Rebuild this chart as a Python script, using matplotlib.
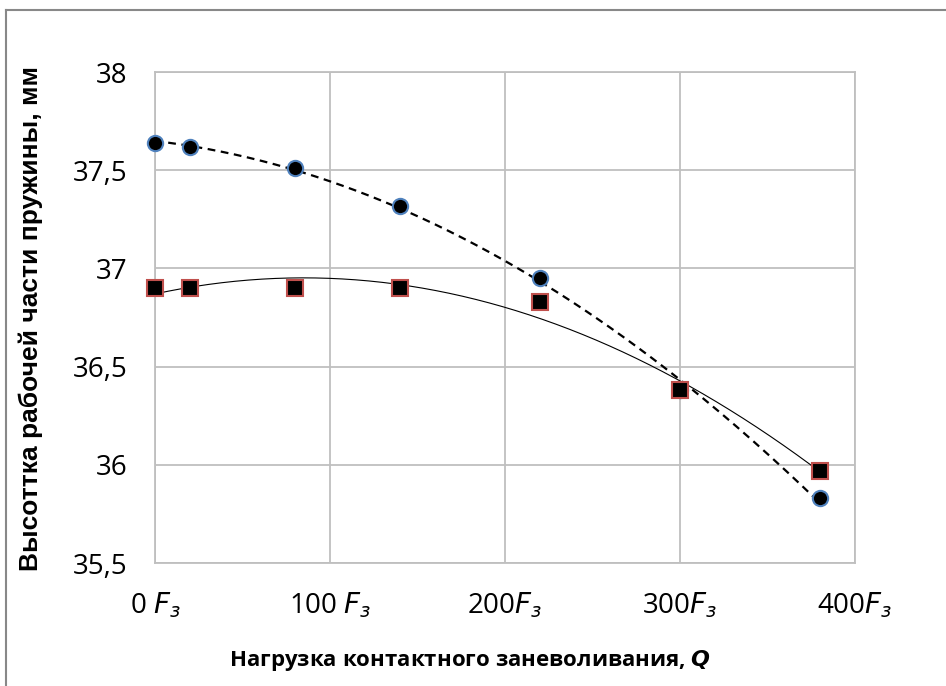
import numpy as np
import matplotlib
matplotlib.use("Agg")
import matplotlib.pyplot as plt
from matplotlib.lines import Line2D

# данные
q = [0, 20, 80, 140, 220, 300, 380]
h_circle = [37.64, 37.62, 37.51, 37.32, 36.95, 36.38, 35.83]
h_square = [36.90, 36.90, 36.90, 36.90, 36.83, 36.38, 35.97]

x_ticks = [0, 100, 200, 300, 400]
x_labels = ["0 $F_з$", "100 $F_з$", "200$F_з$", "300$F_з$", "400$F_з$"]
y_ticks = [35.5, 36, 36.5, 37, 37.5, 38]
y_labels = ["35,5", "36", "36,5", "37", "37,5", "38"]

plt.rcParams["font.family"] = ["Open Sans", "DejaVu Sans"]
plt.rcParams["mathtext.fontset"] = "dejavusans"

fig = plt.figure(figsize=(9.46, 6.86), dpi=100)
ax = fig.add_axes([0.1638, 0.1793, 0.7400, 0.7157])

# полиномиальные линии тренда (2-я степень)
xx = np.linspace(0, 380, 200)
p1 = np.polyfit(q, h_circle, 2)
p2 = np.polyfit(q, h_square, 2)
ax.plot(xx, np.polyval(p1, xx), color="black", lw=1.6, ls=(0, (3.5, 2.5)), zorder=3)
ax.plot(xx, np.polyval(p2, xx), color="black", lw=0.8, zorder=3)

ax.plot(q, h_circle, "o", ms=11, mfc="black", mec="#4F81BD", mew=1.5, ls="none",
        zorder=4, clip_on=False)
ax.plot(q, h_square, "s", ms=11, mfc="black", mec="#C0504D", mew=1.5, ls="none",
        zorder=5, clip_on=False)

ax.set_xlim(0, 400)
ax.set_ylim(35.5, 38)
ax.set_xticks(x_ticks)
ax.set_xticklabels(x_labels, fontsize=20)
ax.set_yticks(y_ticks)
ax.set_yticklabels(y_labels, fontsize=20)
ax.tick_params(axis="x", length=0, pad=20)
ax.tick_params(axis="y", length=0, pad=20)
ax.grid(True, color="#BFBFBF", lw=1.3)
for s in ax.spines.values():
    s.set_color("#BFBFBF")
    s.set_linewidth(1.3)

fig.text(0.033, 0.535, "Высоттка рабочей части пружины, мм", rotation=90,
         ha="center", va="center", fontsize=19, fontweight="bold",
         family=["Liberation Sans", "DejaVu Sans"])
fig.text(0.497, 0.037, "Нагрузка контактного заневоливания, $\\mathbfit{Q}$",
         ha="center", va="center", fontsize=16, fontweight="bold")

# рамка области диаграммы
fig.add_artist(Line2D([0.0063, 0.0063], [0, 0.9854], color="#888888", lw=1.5))
fig.add_artist(Line2D([0.0063, 1.0], [0.9854, 0.9854], color="#888888", lw=1.5))

fig.savefig("out.png", dpi=100)
